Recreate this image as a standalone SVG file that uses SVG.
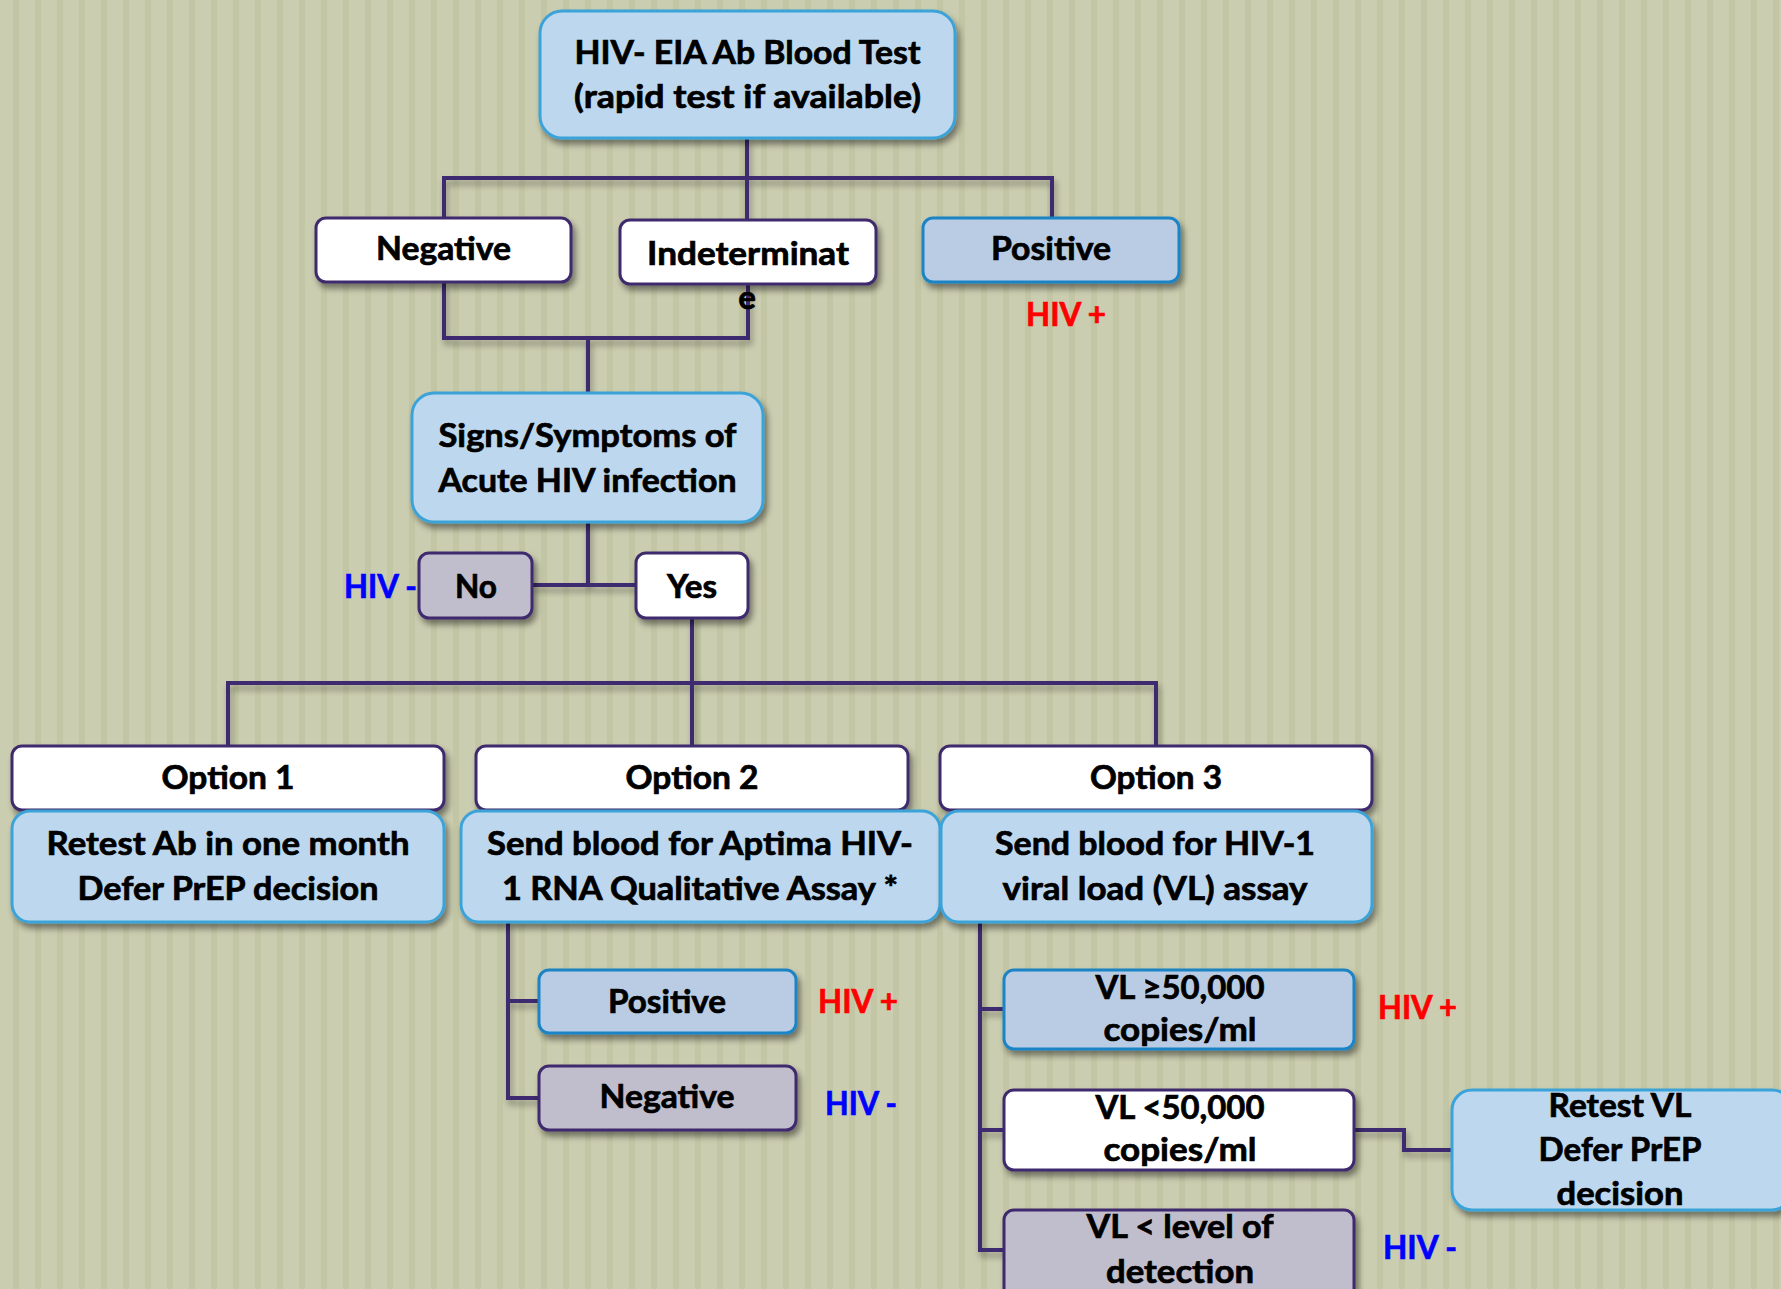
<svg xmlns="http://www.w3.org/2000/svg" width="1781" height="1289" viewBox="0 0 1781 1289">
<defs>
<pattern id="bg" x="0" y="0" width="22" height="22" patternUnits="userSpaceOnUse">
<rect width="22" height="22" fill="#cbcdb0"/>
<rect x="13" width="6" height="22" fill="#c3c6a4"/>
</pattern>
<filter id="sh" x="-10%" y="-10%" width="130%" height="140%">
<feDropShadow dx="3" dy="5" stdDeviation="3" flood-color="#000" flood-opacity="0.45"/>
</filter>
<filter id="lsh" x="-5%" y="-5%" width="110%" height="120%">
<feDropShadow dx="2" dy="5" stdDeviation="3" flood-color="#000" flood-opacity="0.35"/>
</filter>
</defs>
<style>
.blue{fill:#bdd7ee;stroke:#3aa3d8;stroke-width:3}
.pos{fill:#b9cce4;stroke:#1a84c4;stroke-width:3}
.wht{fill:#ffffff;stroke:#3f2a6e;stroke-width:3}
.gry{fill:#c0bdcc;stroke:#3f2a6e;stroke-width:3}
.t{font-family:Lato,"Open Sans","Liberation Sans",sans-serif;font-weight:700;font-size:33px;fill:#000;stroke:#000;stroke-width:0.7;text-anchor:middle}
.r{fill:#ff0000;stroke:#ff0000;text-anchor:start}
.b{fill:#0000ff;stroke:#0000ff;text-anchor:start}
.c{fill:none;stroke:#3d2a70;stroke-width:4}
</style>
<rect width="1781" height="1289" fill="url(#bg)"/>

<g id="connectors" class="c" filter="url(#lsh)">
<path d="M747,138 V178"/>
<path d="M444,218 V178 H1052 V218"/>
<path d="M747,178 V220"/>
<path d="M444,282 V338 H748 V284"/>
<path d="M588,338 V394"/>
<path d="M588,522 V585"/>
<path d="M532,585 H636"/>
<path d="M692,618 V683"/>
<path d="M228,746 V683 H1156 V746"/>
<path d="M692,683 V746"/>
<path d="M508,922 V1098 H539"/>
<path d="M508,1001 H539"/>
<path d="M980,922 V1250 H1004"/>
<path d="M980,1009 H1004"/>
<path d="M980,1130 H1004"/>
<path d="M1354,1130 H1404 V1150 H1452"/>
</g>

<g id="n-top">
<rect class="blue" x="540" y="11" width="415" height="127" rx="22" filter="url(#sh)"/>
<text class="t" x="747.5" y="64" textLength="346" lengthAdjust="spacingAndGlyphs">HIV- EIA Ab Blood Test</text>
<text class="t" x="747.5" y="108" textLength="347" lengthAdjust="spacingAndGlyphs">(rapid test if available)</text>
</g>

<g id="n-negative">
<rect class="wht" x="316" y="218" width="255" height="64" rx="10" filter="url(#sh)"/>
<text class="t" x="443.5" y="260" textLength="135" lengthAdjust="spacingAndGlyphs">Negative</text>
</g>

<g id="n-indeterminate">
<rect class="wht" x="620" y="220" width="256" height="64" rx="10" filter="url(#sh)"/>
<text class="t" x="748" y="265" textLength="202" lengthAdjust="spacingAndGlyphs">Indeterminat</text>
<text class="t" x="747" y="309">e</text>
</g>

<g id="n-positive">
<rect class="pos" x="923" y="218" width="256" height="64" rx="10" filter="url(#sh)"/>
<text class="t" x="1051" y="260" textLength="120" lengthAdjust="spacingAndGlyphs">Positive</text>
<text class="t r" x="1026" y="326" textLength="80" lengthAdjust="spacingAndGlyphs">HIV +</text>
</g>

<g id="n-signs">
<rect class="blue" x="412" y="393" width="351" height="129" rx="22" filter="url(#sh)"/>
<text class="t" x="587.5" y="447" textLength="298" lengthAdjust="spacingAndGlyphs">Signs/Symptoms of</text>
<text class="t" x="587.5" y="492" textLength="298" lengthAdjust="spacingAndGlyphs">Acute HIV infection</text>
</g>

<g id="n-no">
<rect class="gry" x="419" y="553" width="113" height="65" rx="10" filter="url(#sh)"/>
<text class="t" x="476" y="598" textLength="42" lengthAdjust="spacingAndGlyphs">No</text>
<text class="t b" x="344" y="598" textLength="73" lengthAdjust="spacingAndGlyphs">HIV -</text>
</g>

<g id="n-yes">
<rect class="wht" x="636" y="553" width="112" height="65" rx="10" filter="url(#sh)"/>
<text class="t" x="692" y="598" textLength="50" lengthAdjust="spacingAndGlyphs">Yes</text>
</g>

<g id="n-option1">
<rect class="wht" x="12" y="746" width="432" height="64" rx="10" filter="url(#sh)"/>
<rect class="blue" x="12" y="811" width="432" height="111" rx="18" filter="url(#sh)"/>
<text class="t" x="228" y="789" textLength="133" lengthAdjust="spacingAndGlyphs">Option 1</text>
<text class="t" x="228" y="855" textLength="363" lengthAdjust="spacingAndGlyphs">Retest Ab in one month</text>
<text class="t" x="228" y="900" textLength="301" lengthAdjust="spacingAndGlyphs">Defer PrEP decision</text>
</g>

<g id="n-option2">
<rect class="wht" x="476" y="746" width="432" height="64" rx="10" filter="url(#sh)"/>
<rect class="blue" x="461" y="811" width="479" height="111" rx="18" filter="url(#sh)"/>
<text class="t" x="692" y="789" textLength="133" lengthAdjust="spacingAndGlyphs">Option 2</text>
<text class="t" x="700" y="855" textLength="426" lengthAdjust="spacingAndGlyphs">Send blood for Aptima HIV-</text>
<text class="t" x="700" y="900" textLength="396" lengthAdjust="spacingAndGlyphs">1 RNA Qualitative Assay *</text>
</g>

<g id="n-option3">
<rect class="wht" x="940" y="746" width="432" height="64" rx="10" filter="url(#sh)"/>
<rect class="blue" x="941" y="811" width="431" height="111" rx="18" filter="url(#sh)"/>
<text class="t" x="1156" y="789" textLength="132" lengthAdjust="spacingAndGlyphs">Option 3</text>
<text class="t" x="1155" y="855" textLength="320" lengthAdjust="spacingAndGlyphs">Send blood for HIV-1</text>
<text class="t" x="1155" y="900" textLength="305" lengthAdjust="spacingAndGlyphs">viral load (VL) assay</text>
</g>

<g id="n-aptima-positive">
<rect class="pos" x="539" y="970" width="257" height="63" rx="10" filter="url(#sh)"/>
<text class="t" x="667" y="1013" textLength="118" lengthAdjust="spacingAndGlyphs">Positive</text>
<text class="t r" x="818" y="1013" textLength="80" lengthAdjust="spacingAndGlyphs">HIV +</text>
</g>

<g id="n-aptima-negative">
<rect class="gry" x="539" y="1066" width="257" height="64" rx="10" filter="url(#sh)"/>
<text class="t" x="667" y="1108" textLength="135" lengthAdjust="spacingAndGlyphs">Negative</text>
<text class="t b" x="825" y="1115" textLength="72" lengthAdjust="spacingAndGlyphs">HIV -</text>
</g>

<g id="n-vl-high">
<rect class="pos" x="1004" y="970" width="350" height="79" rx="10" filter="url(#sh)"/>
<text class="t" x="1180" y="999" textLength="169" lengthAdjust="spacingAndGlyphs">VL ≥50,000</text>
<text class="t" x="1180" y="1041" textLength="153" lengthAdjust="spacingAndGlyphs">copies/ml</text>
<text class="t r" x="1378" y="1019" textLength="79" lengthAdjust="spacingAndGlyphs">HIV +</text>
</g>

<g id="n-vl-low">
<rect class="wht" x="1004" y="1090" width="350" height="80" rx="10" filter="url(#sh)"/>
<text class="t" x="1180" y="1119" textLength="169" lengthAdjust="spacingAndGlyphs">VL &lt;50,000</text>
<text class="t" x="1180" y="1161" textLength="153" lengthAdjust="spacingAndGlyphs">copies/ml</text>
</g>

<g id="n-vl-undetect">
<rect class="gry" x="1004" y="1210" width="350" height="100" rx="10" filter="url(#sh)"/>
<text class="t" x="1180" y="1238" textLength="187" lengthAdjust="spacingAndGlyphs">VL &lt; level of</text>
<text class="t" x="1180" y="1283" textLength="148" lengthAdjust="spacingAndGlyphs">detection</text>
<text class="t b" x="1383" y="1259" textLength="74" lengthAdjust="spacingAndGlyphs">HIV -</text>
</g>

<g id="n-retest-vl">
<rect class="blue" x="1452" y="1090" width="340" height="120" rx="20" filter="url(#sh)"/>
<text class="t" x="1620" y="1117" textLength="143" lengthAdjust="spacingAndGlyphs">Retest VL</text>
<text class="t" x="1620" y="1161" textLength="163" lengthAdjust="spacingAndGlyphs">Defer PrEP</text>
<text class="t" x="1620" y="1205" textLength="127" lengthAdjust="spacingAndGlyphs">decision</text>
</g>
</svg>
